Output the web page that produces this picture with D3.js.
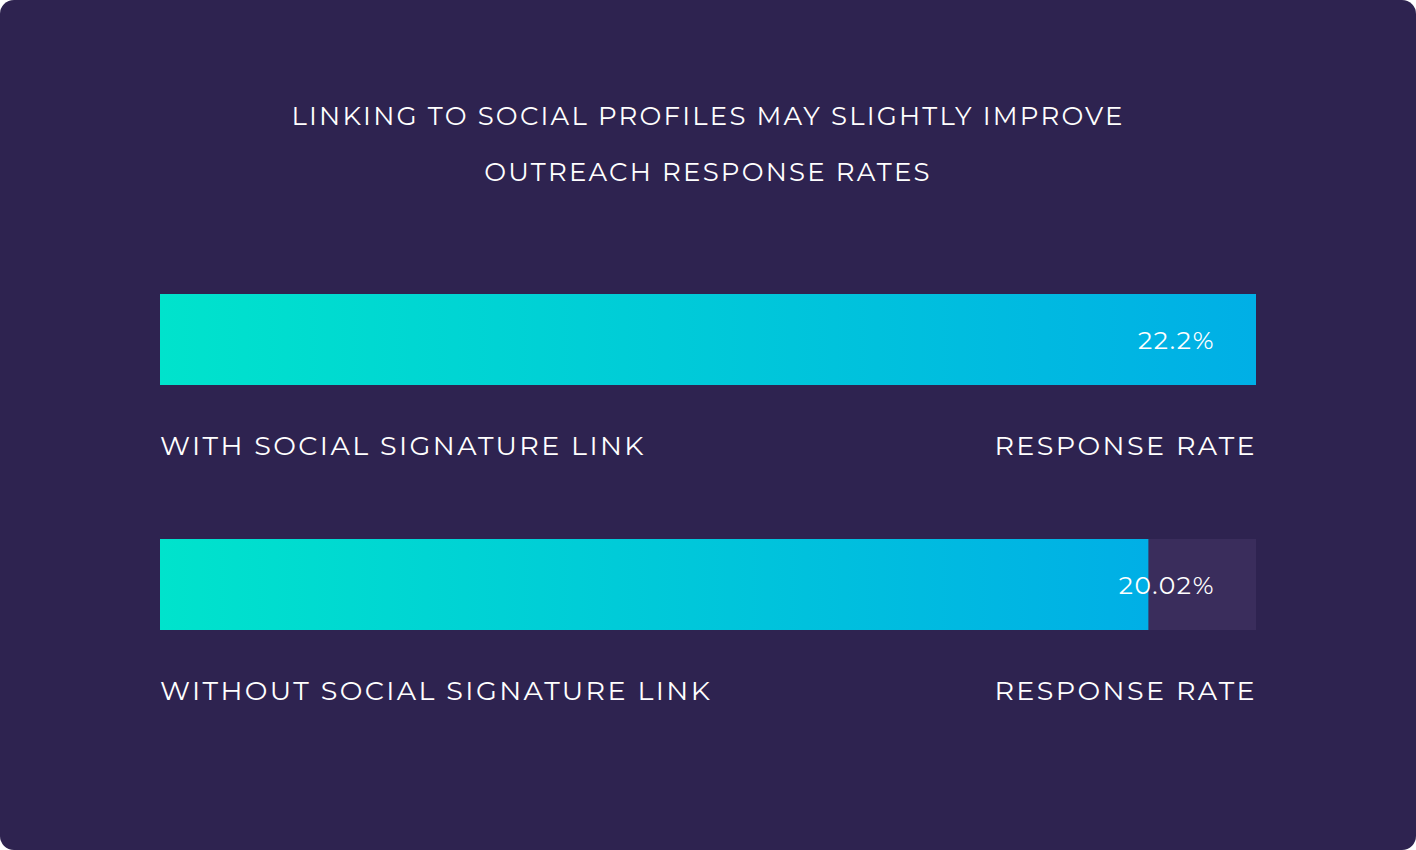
<!DOCTYPE html>
<html>
<head>
<meta charset="utf-8">
<script src="https://cdn.jsdelivr.net/npm/d3@7"></script>
<style>
  body { margin: 0; background: #fff; }
  text { font-family: "Montserrat", "Lato", "Open Sans", sans-serif; fill: #fff; }
</style>
</head>
<body>
<svg id="chart" width="1416" height="850"></svg>
<script>
var categories = ["WITH SOCIAL SIGNATURE LINK", "WITHOUT SOCIAL SIGNATURE LINK"];
var values = [22.2, 20.02];
var valueLabels = ["22.2%", "20.02%"];
var metricLabel = "RESPONSE RATE";
var titleLines = ["LINKING TO SOCIAL PROFILES MAY SLIGHTLY IMPROVE", "OUTREACH RESPONSE RATES"];

var svg = d3.select("#chart");
svg.append("rect").attr("width", 1416).attr("height", 850).attr("rx", 14).attr("fill", "#2e2350");

var grad = svg.append("defs").append("linearGradient").attr("id", "barGrad")
    .attr("gradientUnits", "objectBoundingBox");
grad.append("stop").attr("offset", "0%").attr("stop-color", "#00e3cc");
grad.append("stop").attr("offset", "100%").attr("stop-color", "#00afe6");

svg.selectAll(".title").data(titleLines).enter().append("text")
    .attr("x", 708).attr("y", (d, i) => 125 + i * 56)
    .attr("text-anchor", "middle").attr("font-size", 26).attr("letter-spacing", 2.2)
    .text(d => d);

var x = d3.scaleLinear().domain([0, d3.max(values)]).range([160, 1256]);
var y = d3.scaleBand().domain(categories).range([294, 784]).paddingInner(0);
var barH = 91;

var g = svg.selectAll(".row").data(categories).enter().append("g")
    .attr("transform", d => "translate(0," + y(d) + ")");

g.append("rect").attr("x", x(0)).attr("width", x.range()[1] - x(0)).attr("height", barH).attr("fill", "#3a2d5c");
g.append("rect").attr("x", x(0)).attr("width", (d, i) => x(values[i]) - x(0)).attr("height", barH).attr("fill", "url(#barGrad)");
g.append("text").attr("x", 1215).attr("y", barH / 2 + 9).attr("text-anchor", "end")
    .attr("font-size", 25).attr("letter-spacing", 1.5).text((d, i) => valueLabels[i]);
g.append("text").attr("x", 160).attr("y", 161).attr("font-size", 27).attr("letter-spacing", 2.4).text(d => d);
g.append("text").attr("x", 1257).attr("y", 161).attr("text-anchor", "end")
    .attr("font-size", 27).attr("letter-spacing", 2.4).text(metricLabel);
</script>
</body>
</html>
